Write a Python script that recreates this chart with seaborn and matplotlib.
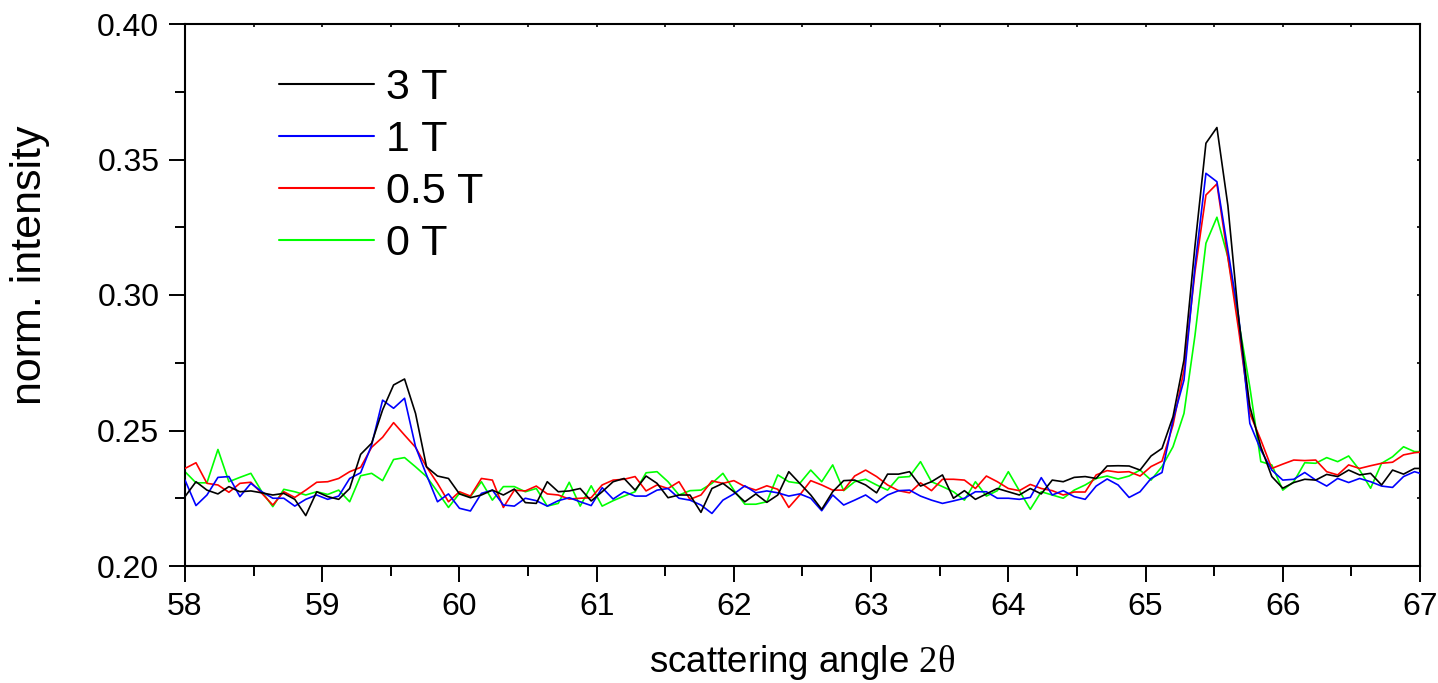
import numpy as np
import pandas as pd
import matplotlib
matplotlib.use("Agg")
import matplotlib.pyplot as plt
import seaborn as sns
from matplotlib.ticker import MultipleLocator

# scattering angle grid (scan step 0.08 deg)
angle = np.round(58.0 + 0.08 * np.arange(114), 2)

int_3T = [
    0.2256, 0.2311, 0.2280, 0.2266, 0.2293, 0.2274, 0.2277, 0.2270, 0.2262, 0.2268,
    0.2246, 0.2186, 0.2274, 0.2256, 0.2246, 0.2286, 0.2412, 0.2453, 0.2576, 0.2668,
    0.2690, 0.2563, 0.2366, 0.2332, 0.2323, 0.2266, 0.2252, 0.2262, 0.2280, 0.2262,
    0.2284, 0.2234, 0.2231, 0.2311, 0.2274, 0.2277, 0.2286, 0.2240, 0.2274, 0.2311,
    0.2323, 0.2280, 0.2332, 0.2305, 0.2252, 0.2262, 0.2262, 0.2198, 0.2286, 0.2305,
    0.2274, 0.2237, 0.2266, 0.2235, 0.2262, 0.2348, 0.2305, 0.2262, 0.2209, 0.2274,
    0.2315, 0.2317, 0.2299, 0.2270, 0.2339, 0.2339, 0.2348, 0.2295, 0.2311, 0.2336,
    0.2250, 0.2278, 0.2246, 0.2266, 0.2286, 0.2274, 0.2262, 0.2286, 0.2266, 0.2317,
    0.2311, 0.2327, 0.2330, 0.2323, 0.2369, 0.2370, 0.2369, 0.2354, 0.2406, 0.2434,
    0.2551, 0.2760, 0.3180, 0.3560, 0.3618, 0.3330, 0.2905, 0.2588, 0.2440, 0.2330,
    0.2287, 0.2308, 0.2320, 0.2317, 0.2338, 0.2330, 0.2354, 0.2336, 0.2342, 0.2299,
    0.2354, 0.2339, 0.2360, 0.2360,
]

int_1T = [
    0.2317, 0.2223, 0.2262, 0.2327, 0.2330, 0.2256, 0.2305, 0.2274, 0.2250, 0.2250,
    0.2221, 0.2246, 0.2262, 0.2246, 0.2258, 0.2323, 0.2344, 0.2446, 0.2612, 0.2582,
    0.2619, 0.2440, 0.2336, 0.2237, 0.2266, 0.2213, 0.2203, 0.2268, 0.2280, 0.2225,
    0.2221, 0.2250, 0.2241, 0.2221, 0.2241, 0.2252, 0.2237, 0.2223, 0.2289, 0.2247,
    0.2274, 0.2258, 0.2258, 0.2280, 0.2286, 0.2250, 0.2243, 0.2225, 0.2194, 0.2243,
    0.2266, 0.2296, 0.2270, 0.2277, 0.2270, 0.2258, 0.2266, 0.2250, 0.2204, 0.2262,
    0.2225, 0.2243, 0.2262, 0.2234, 0.2262, 0.2278, 0.2280, 0.2258, 0.2243, 0.2231,
    0.2240, 0.2250, 0.2274, 0.2274, 0.2250, 0.2250, 0.2246, 0.2253, 0.2326, 0.2262,
    0.2278, 0.2256, 0.2246, 0.2295, 0.2321, 0.2299, 0.2253, 0.2274, 0.2323, 0.2345,
    0.2539, 0.2686, 0.3105, 0.3449, 0.3418, 0.3166, 0.2914, 0.2526, 0.2428, 0.2354,
    0.2317, 0.2320, 0.2345, 0.2317, 0.2295, 0.2323, 0.2308, 0.2323, 0.2311, 0.2295,
    0.2290, 0.2330, 0.2348, 0.2336,
]

int_05T = [
    0.2360, 0.2381, 0.2305, 0.2299, 0.2272, 0.2305, 0.2309, 0.2268, 0.2225, 0.2274,
    0.2253, 0.2280, 0.2309, 0.2311, 0.2323, 0.2348, 0.2364, 0.2438, 0.2475, 0.2529,
    0.2483, 0.2438, 0.2366, 0.2305, 0.2237, 0.2274, 0.2258, 0.2323, 0.2317, 0.2216,
    0.2280, 0.2277, 0.2295, 0.2266, 0.2262, 0.2247, 0.2250, 0.2252, 0.2299, 0.2317,
    0.2320, 0.2330, 0.2277, 0.2299, 0.2286, 0.2311, 0.2246, 0.2262, 0.2314, 0.2305,
    0.2315, 0.2293, 0.2280, 0.2296, 0.2283, 0.2216, 0.2262, 0.2315, 0.2299, 0.2280,
    0.2280, 0.2332, 0.2354, 0.2330, 0.2299, 0.2278, 0.2270, 0.2307, 0.2278, 0.2320,
    0.2320, 0.2317, 0.2286, 0.2332, 0.2311, 0.2286, 0.2278, 0.2301, 0.2286, 0.2278,
    0.2262, 0.2273, 0.2273, 0.2336, 0.2352, 0.2346, 0.2348, 0.2332, 0.2367, 0.2387,
    0.2520, 0.2723, 0.3085, 0.3369, 0.3410, 0.3138, 0.2866, 0.2563, 0.2465, 0.2360,
    0.2376, 0.2391, 0.2389, 0.2391, 0.2348, 0.2336, 0.2373, 0.2360, 0.2370, 0.2379,
    0.2383, 0.2410, 0.2418, 0.2422,
]

int_0T = [
    0.2348, 0.2307, 0.2307, 0.2430, 0.2311, 0.2327, 0.2342, 0.2274, 0.2219, 0.2283,
    0.2274, 0.2262, 0.2274, 0.2264, 0.2280, 0.2237, 0.2333, 0.2342, 0.2315, 0.2393,
    0.2400, 0.2366, 0.2330, 0.2274, 0.2216, 0.2268, 0.2256, 0.2311, 0.2243, 0.2293,
    0.2293, 0.2274, 0.2286, 0.2221, 0.2231, 0.2309, 0.2221, 0.2296, 0.2221, 0.2241,
    0.2258, 0.2274, 0.2344, 0.2348, 0.2311, 0.2262, 0.2278, 0.2280, 0.2305, 0.2342,
    0.2280, 0.2228, 0.2228, 0.2237, 0.2336, 0.2311, 0.2305, 0.2354, 0.2311, 0.2373,
    0.2278, 0.2311, 0.2320, 0.2299, 0.2280, 0.2327, 0.2330, 0.2385, 0.2311, 0.2293,
    0.2274, 0.2243, 0.2311, 0.2258, 0.2278, 0.2348, 0.2278, 0.2209, 0.2274, 0.2262,
    0.2250, 0.2280, 0.2299, 0.2323, 0.2332, 0.2321, 0.2332, 0.2354, 0.2317, 0.2367,
    0.2440, 0.2563, 0.2850, 0.3191, 0.3287, 0.3140, 0.2900, 0.2660, 0.2385, 0.2373,
    0.2280, 0.2311, 0.2381, 0.2379, 0.2400, 0.2385, 0.2406, 0.2354, 0.2287, 0.2379,
    0.2403, 0.2440, 0.2422, 0.2422,
]

field_labels = ["3 T", "1 T", "0.5 T", "0 T"]
field_colors = ["#000000", "#0000FF", "#FF0000", "#00FF00"]
x_ticks = [58, 59, 60, 61, 62, 63, 64, 65, 66, 67]
y_ticks = [0.20, 0.25, 0.30, 0.35, 0.40]

series = [int_3T, int_1T, int_05T, int_0T]
frames = []
for lab, vals in zip(field_labels, series):
    frames.append(pd.DataFrame({"angle": angle, "intensity": vals, "field": lab}))
df = pd.concat(frames, ignore_index=True)

sns.set_theme(style="white")
plt.rcParams["font.family"] = ["Liberation Sans", "DejaVu Sans"]
plt.rcParams["mathtext.fontset"] = "custom"
plt.rcParams["mathtext.rm"] = "Liberation Serif"
plt.rcParams["text.color"] = "black"
plt.rcParams["axes.labelcolor"] = "black"
plt.rcParams["xtick.color"] = "black"
plt.rcParams["ytick.color"] = "black"

fig = plt.figure(figsize=(14.38, 6.83), dpi=100)
ax = fig.add_axes([185 / 1438, 1 - 566 / 683, (1420 - 185) / 1438, (566 - 24) / 683])

sns.lineplot(data=df, x="angle", y="intensity", hue="field", hue_order=field_labels,
             palette=dict(zip(field_labels, field_colors)), linewidth=1.2,
             ax=ax, legend=True, estimator=None, sort=False)

# black on top, green at bottom
for k, ln in enumerate(ax.lines[:4]):
    ln.set_zorder(5 - k)

ax.set_xlim(58, 67)
ax.set_ylim(0.20, 0.40)
ax.set_xticks(x_ticks)
ax.set_xticklabels([str(t) for t in x_ticks])
ax.set_yticks(y_ticks)
ax.set_yticklabels([f"{t:.2f}" for t in y_ticks])
ax.xaxis.set_minor_locator(MultipleLocator(0.5))
ax.yaxis.set_minor_locator(MultipleLocator(0.025))

for s in ax.spines.values():
    s.set_visible(True)
    s.set_color("black")
    s.set_linewidth(1.5)

ax.tick_params(axis="both", which="major", direction="out", length=11.5, width=1.4,
               color="black", labelcolor="black", labelsize=23, pad=7,
               bottom=True, left=True)
ax.tick_params(axis="both", which="minor", direction="out", length=7, width=1.4,
               color="black", bottom=True, left=True)

# small inward mirror ticks on top and right
secx = ax.secondary_xaxis("top")
secx.set_xticks(x_ticks)
secx.xaxis.set_minor_locator(MultipleLocator(0.5))
secx.tick_params(which="both", direction="in", length=2.5, width=1.2, labeltop=False)
secx.spines["top"].set_visible(False)
secy = ax.secondary_yaxis("right")
secy.set_yticks(y_ticks)
secy.yaxis.set_minor_locator(MultipleLocator(0.025))
secy.tick_params(which="both", direction="in", length=2.5, width=1.2, labelright=False)
secy.spines["right"].set_visible(False)

ax.set_xlabel(r"scattering angle $\mathrm{2\theta}$", fontsize=26.5, labelpad=15,
              color="black")
ax.set_ylabel("norm. intensity", fontsize=31, color="black")
ax.yaxis.set_label_coords(-0.1093, 0.555)
ax.grid(False)

leg = ax.legend(loc="upper left", bbox_to_anchor=(0.0623, 0.950), frameon=False,
                fontsize=31, handlelength=2.2, handletextpad=0.28, labelspacing=0.28,
                borderaxespad=0)
for h in leg.get_lines():
    h.set_linewidth(1.5)
for t in leg.get_texts():
    t.set_color("black")

fig.savefig("out.png", dpi=100)
